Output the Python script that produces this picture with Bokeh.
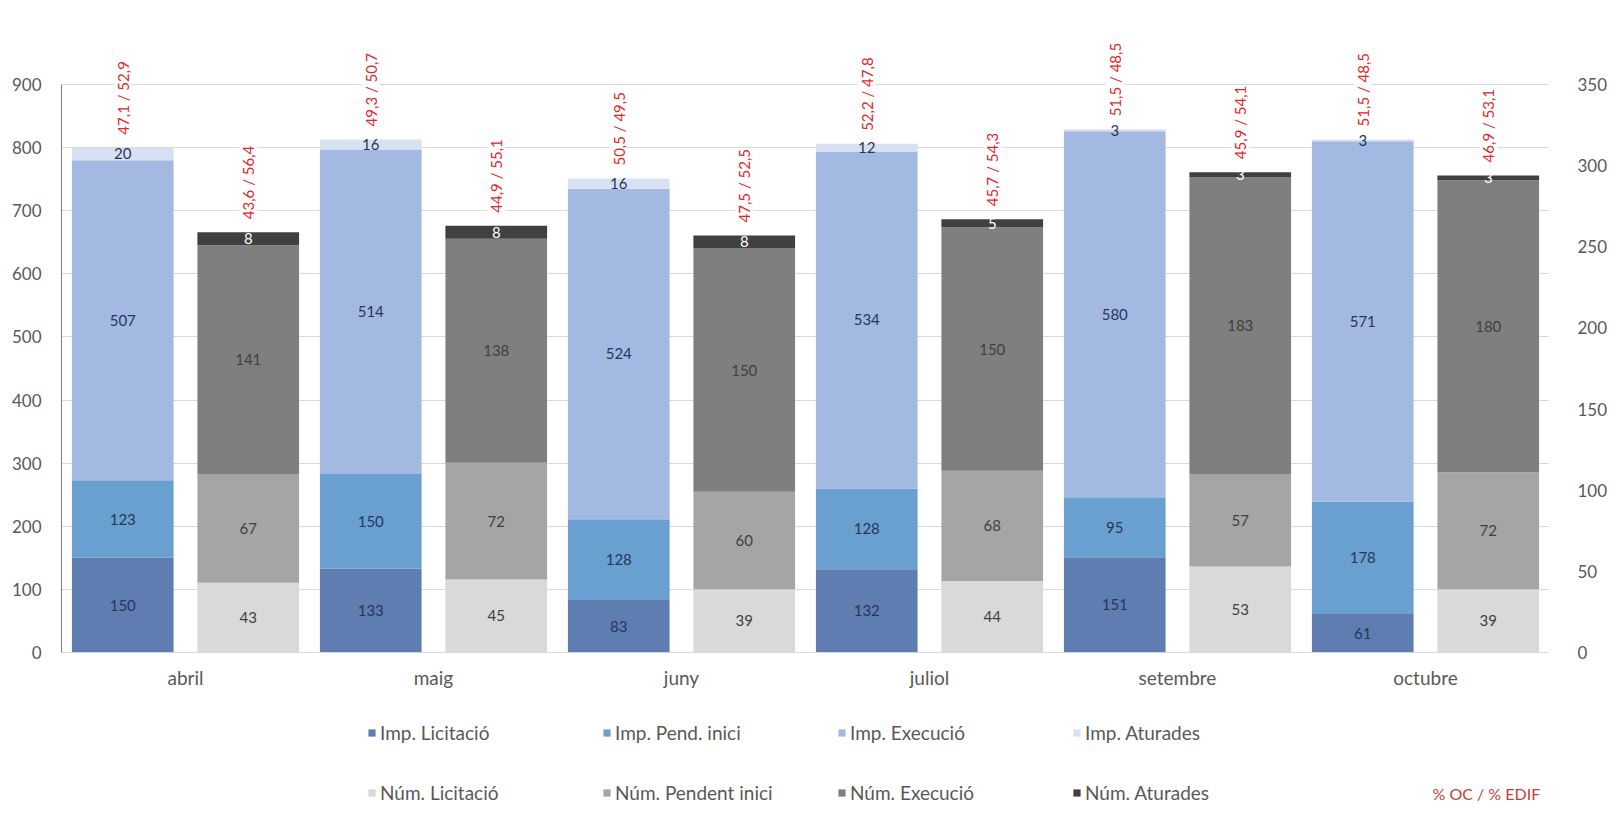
import numpy as np
from bokeh.plotting import figure
from bokeh.models import (ColumnDataSource, Range1d, LinearAxis, FixedTicker,
                          Legend, LegendItem, Label)
from bokeh.core.properties import value
from bokeh.transform import dodge
from bokeh.embed import file_html
from bokeh.resources import INLINE

# ---------------- data ----------------
months = ["abril", "maig", "juny", "juliol", "setembre", "octubre"]

imp_lic = [150, 133, 83, 132, 151, 61]
imp_pend = [123, 150, 128, 128, 95, 178]
imp_exec = [507, 514, 524, 534, 580, 571]
imp_atur = [20, 16, 16, 12, 3, 3]

num_lic = [43, 45, 39, 44, 53, 39]
num_pend = [67, 72, 60, 68, 57, 72]
num_exec = [141, 138, 150, 150, 183, 180]
num_atur = [8, 8, 8, 5, 3, 3]

oc_imp = [47.1, 49.3, 50.5, 52.2, 51.5, 51.5]
edif_imp = [52.9, 50.7, 49.5, 47.8, 48.5, 48.5]
oc_num = [43.6, 44.9, 47.5, 45.7, 45.9, 46.9]
edif_num = [56.4, 55.1, 52.5, 54.3, 54.1, 53.1]

left_ticks = [0, 100, 200, 300, 400, 500, 600, 700, 800, 900]
right_ticks = [0, 50, 100, 150, 200, 250, 300, 350]

imp_names = ["Imp. Licitació", "Imp. Pend. inici", "Imp. Execució", "Imp. Aturades"]
num_names = ["Núm. Licitació", "Núm. Pendent inici", "Núm. Execució", "Núm. Aturades"]
pct_name = "% OC / % EDIF"

# ---------------- styles ----------------
FONT = "Lato"
imp_colors = ["#5f7db0", "#6aa0cf", "#a3b9e1", "#d7e1f1"]
num_colors = ["#d9d9d9", "#a5a5a5", "#7f7f7f", "#404040"]
imp_label_colors = ["#24375e", "#24375e", "#24375e", "#24375e"]
num_label_colors = ["#404040", "#404040", "#404040", "#ffffff"]
AXIS_TXT = "#595959"
GRID = "#d9d9d9"
RED = "#e0282c"

LEFT_MAX = 900
RIGHT_MAX = 350
YEND = 985.6
PLOT_PX = 622.0                    # pixels from 0 to YEND
FRAME_H = 778
YMIN = YEND - FRAME_H * YEND / PLOT_PX   # room below 0 for labels and legend
OFF = 0.253
BW = 0.41

xs = np.arange(len(months)) + 0.5
src = ColumnDataSource(dict(
    x=xs,
    imp_lic=imp_lic, imp_pend=imp_pend, imp_exec=imp_exec, imp_atur=imp_atur,
    num_lic=num_lic, num_pend=num_pend, num_exec=num_exec, num_atur=num_atur,
))

p = figure(frame_width=1488, frame_height=FRAME_H, output_backend="svg",
           toolbar_location=None,
           x_range=Range1d(0, len(months)), y_range=Range1d(YMIN, YEND),
           min_border_left=61, min_border_right=56, min_border_top=30,
           min_border_bottom=5, outline_line_color=None)
k = RIGHT_MAX / LEFT_MAX
p.extra_y_ranges = {"num": Range1d(YMIN * k, YEND * k)}

# grid
p.xgrid.visible = False
p.ygrid.grid_line_color = GRID
p.ygrid.ticker = FixedTicker(ticks=left_ticks)

# left axis
p.yaxis.ticker = FixedTicker(ticks=left_ticks)
p.yaxis.bounds = (0, LEFT_MAX)
p.yaxis.axis_line_color = "#7f7f7f"
p.yaxis.major_tick_line_color = None
p.yaxis.minor_tick_line_color = None
p.yaxis.major_label_text_color = AXIS_TXT
p.yaxis.major_label_text_font = FONT
p.yaxis.major_label_text_font_size = "17px"
p.yaxis.major_label_standoff = 14

# right axis
ra = LinearAxis(y_range_name="num", ticker=FixedTicker(ticks=right_ticks),
                bounds=(0, RIGHT_MAX))
ra.axis_line_color = None
ra.major_tick_line_color = None
ra.minor_tick_line_color = None
ra.major_label_text_color = AXIS_TXT
ra.major_label_text_font = FONT
ra.major_label_text_font_size = "17px"
ra.major_label_standoff = 22
p.add_layout(ra, "right")

# x axis, pinned at y = 0
p.xaxis.fixed_location = 0
p.xaxis.ticker = FixedTicker(ticks=list(xs))
p.xaxis.major_label_overrides = {float(x): m for x, m in zip(xs, months)}
p.xaxis.axis_line_color = GRID
p.xaxis.major_tick_line_color = None
p.xaxis.minor_tick_line_color = None
p.xaxis.major_label_text_color = AXIS_TXT
p.xaxis.major_label_text_font = FONT
p.xaxis.major_label_text_font_size = "19px"
p.xaxis.major_label_standoff = 7

# bars
imp_keys = ["imp_lic", "imp_pend", "imp_exec", "imp_atur"]
num_keys = ["num_lic", "num_pend", "num_exec", "num_atur"]
imp_r = p.vbar_stack(imp_keys, x=dodge("x", -OFF), width=BW, color=imp_colors,
                     line_color=None, source=src)
num_r = p.vbar_stack(num_keys, x=dodge("x", OFF), width=BW, color=num_colors,
                     line_color=None, source=src, y_range_name="num")

# segment labels
def seg_labels(series, dx, colors, rng):
    base = np.zeros(len(months))
    for vals, col in zip(series, colors):
        v = np.array(vals, dtype=float)
        mid = base + v / 2
        base = base + v
        kw = {} if rng is None else {"y_range_name": rng}
        p.text(x=xs + dx, y=mid, text=[str(int(a)) for a in v],
               text_align="center", text_baseline="middle",
               text_color=col, text_font=value(FONT), text_font_size="15px", **kw)
    return base

imp_tot = seg_labels([imp_lic, imp_pend, imp_exec, imp_atur], -OFF, imp_label_colors, None)
num_tot = seg_labels([num_lic, num_pend, num_exec, num_atur], OFF, num_label_colors, "num")

def fmt(a):
    return ("%.1f" % a).replace(".", ",")

imp_pct = [fmt(a) + " / " + fmt(b) for a, b in zip(oc_imp, edif_imp)]
num_pct = [fmt(a) + " / " + fmt(b) for a, b in zip(oc_num, edif_num)]

p.text(x=xs - OFF, y=imp_tot, text=imp_pct, angle=np.pi / 2, y_offset=-13,
       text_align="left", text_baseline="middle", text_color=RED,
       text_font=value(FONT), text_font_size="15px",
       background_fill_color="white")
p.text(x=xs + OFF, y=num_tot, text=num_pct, angle=np.pi / 2, y_offset=-13,
       text_align="left", text_baseline="middle", text_color=RED,
       text_font=value(FONT), text_font_size="15px",
       background_fill_color="white", y_range_name="num")

# legends (two single-row legends inside the lower part of the frame)
def make_legend(names, rends, loc):
    return Legend(items=[LegendItem(label=n, renderers=[r]) for n, r in zip(names, rends)],
                  orientation="horizontal", location=loc,
                  glyph_width=9, glyph_height=9, label_standoff=4, label_width=202,
                  label_height=22, spacing=20, padding=0, margin=0,
                  border_line_color=None, background_fill_alpha=0,
                  label_text_font=FONT, label_text_font_size="19px",
                  label_text_color=AXIS_TXT)

p.add_layout(make_legend(imp_names, imp_r, (306, 64)))
p.add_layout(make_legend(num_names, num_r, (306, 4)))

p.add_layout(Label(x=1371, y=15, x_units="screen", y_units="screen",
                   text=pct_name, text_color="#c43c40", text_font=FONT,
                   text_font_size="16px", text_baseline="middle", text_align="left"))

open("out.html", "w").write(file_html(p, INLINE))
